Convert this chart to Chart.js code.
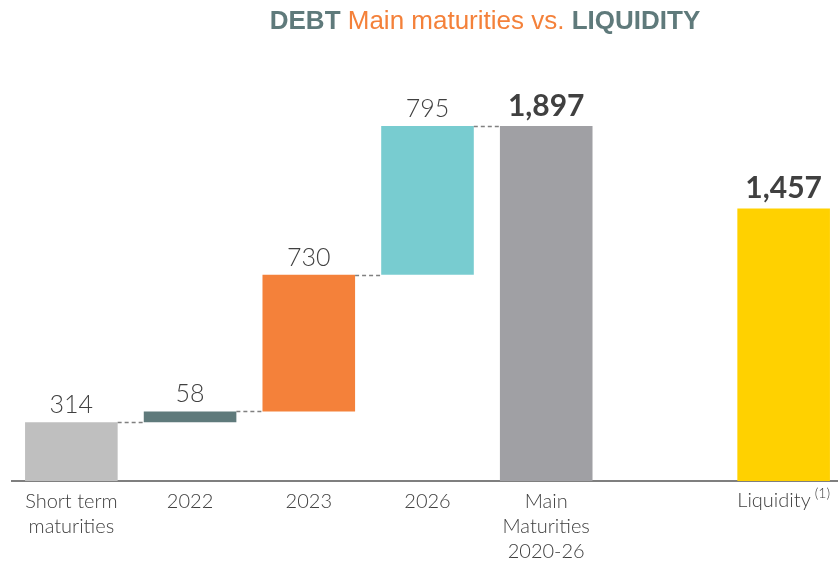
<!DOCTYPE html>
<html>
<head>
<meta charset="utf-8">
<script src="https://cdn.jsdelivr.net/npm/chart.js@4/dist/chart.umd.min.js"></script>
<style>
  html, body { margin: 0; padding: 0; background: #fff; overflow: hidden; }
  #wrap { position: relative; width: 838px; height: 562px; overflow: hidden; }
  #title {
    position: absolute; top: 3px; left: 0; width: 838px; padding-left: 132px; box-sizing: border-box;
    text-align: center; font-family: "Liberation Sans", Arial, sans-serif; font-size: 26px; line-height: 34px;
  }
  #title .dark { color: #5f7a7b; font-weight: bold; }
  #title .orange { color: #f4813a; }
  canvas { position: absolute; left: 0; top: 0; }
</style>
</head>
<body>
<div id="wrap">
  <canvas id="debtChart" width="843" height="572"></canvas>
  <div id="title"><span class="dark">DEBT</span><span class="orange"> Main maturities vs. </span><span class="dark">LIQUIDITY</span></div>
</div>
<script>
// Waterfall: short term + yearly maturities stack up to the total, liquidity alongside
const categories = [['Short term', 'maturities'], '2022', '2023', '2026', ['Main', 'Maturities', '2020-26'], '', 'Liquidity'];
const values = [314, 58, 730, 795, 1897, null, 1457];
const kinds = ['start', 'step', 'step', 'step', 'total', null, 'total'];
const colors = ['#bfbfbf', '#5f7a7b', '#f4813a', '#78ccd0', '#a0a0a4', '#ffffff', '#ffd100'];
const footnote = '(1)';

// Build floating [from, to] ranges for each bar
const ranges = [];
let running = 0;
values.forEach((v, i) => {
    if (v === null) { ranges.push(null); return; }
    if (kinds[i] === 'step') {
        ranges.push([running, running + v]);
        running += v;
    } else {
        ranges.push([0, v]);
        if (kinds[i] === 'start') running = v;
    }
});

const fmt = v => v.toLocaleString('en-US');
const tickFont = '300 20px Lato, sans-serif';
const noteFont = '300 14px Lato, sans-serif';

// Dashed connectors between consecutive waterfall bars
const connectors = {
    id: 'connectors',
    afterDatasetsDraw(chart) {
        const ctx = chart.ctx;
        const meta = chart.getDatasetMeta(0);
        const y = chart.scales.y;
        ctx.save();
        ctx.strokeStyle = '#808080';
        ctx.lineWidth = 1.5;
        ctx.setLineDash([4, 3]);
        for (let i = 0; i < 4; i++) {
            const a = meta.data[i], b = meta.data[i + 1];
            const py = Math.round(y.getPixelForValue(ranges[i][1])) + 0.5;
            ctx.beginPath();
            ctx.moveTo(a.x + a.width / 2, py);
            ctx.lineTo(b.x - b.width / 2, py);
            ctx.stroke();
        }
        ctx.restore();
    }
};

// Value labels above each bar (totals in bold) and the liquidity label with its footnote mark
const valueLabels = {
    id: 'valueLabels',
    afterDatasetsDraw(chart) {
        const ctx = chart.ctx;
        const meta = chart.getDatasetMeta(0);
        const y = chart.scales.y;
        ctx.save();
        ctx.textAlign = 'center';
        ctx.textBaseline = 'alphabetic';
        ctx.fillStyle = '#404040';
        values.forEach((v, i) => {
            if (v === null) return;
            const bar = meta.data[i];
            const top = y.getPixelForValue(ranges[i][1]);
            if (kinds[i] === 'total') {
                ctx.font = 'bold 30px Lato, sans-serif';
                ctx.fillText(fmt(v), bar.x, top - 10);
            } else {
                ctx.font = '300 25px Lato, sans-serif';
                ctx.fillText(fmt(v), bar.x, top - 9);
            }
        });

        const last = categories.length - 1;
        const cx = meta.data[last].x;
        const axisY = chart.scales.x.top;
        ctx.font = tickFont;
        const w1 = ctx.measureText(categories[last]).width;
        ctx.font = noteFont;
        const w2 = ctx.measureText(footnote).width;
        const start = cx - (w1 + 4 + w2) / 2;
        ctx.textAlign = 'left';
        ctx.textBaseline = 'middle';
        ctx.font = tickFont;
        ctx.fillText(categories[last], start, axisY + 20);
        ctx.font = noteFont;
        ctx.fillText(footnote, start + w1 + 4, axisY + 12);
        ctx.restore();
    }
};

new Chart(document.getElementById('debtChart'), {
    type: 'bar',
    data: {
        labels: categories,
        datasets: [{
            data: ranges,
            backgroundColor: colors,
            borderWidth: 0,
            borderSkipped: false,
            categoryPercentage: 1,
            barPercentage: 0.78
        }]
    },
    options: {
        responsive: false,
        animation: false,
        layout: { padding: { top: 60, left: 12, right: 0, bottom: 0 } },
        plugins: {
            legend: { display: false },
            tooltip: { enabled: false }
        },
        scales: {
            x: {
                grid: { display: false, drawTicks: false },
                border: { display: true, color: '#7f7f7f', width: 2 },
                ticks: {
                    color: '#404040',
                    font: { family: 'Lato, sans-serif', size: 20, weight: 300, lineHeight: '25px' },
                    padding: 8,
                    maxRotation: 0,
                    autoSkip: false,
                    callback: (val, i) => i === categories.length - 1 ? '' : categories[i]
                }
            },
            y: {
                display: false,
                min: 0,
                max: 2250
            }
        }
    },
    plugins: [connectors, valueLabels]
});
</script>
</body>
</html>
